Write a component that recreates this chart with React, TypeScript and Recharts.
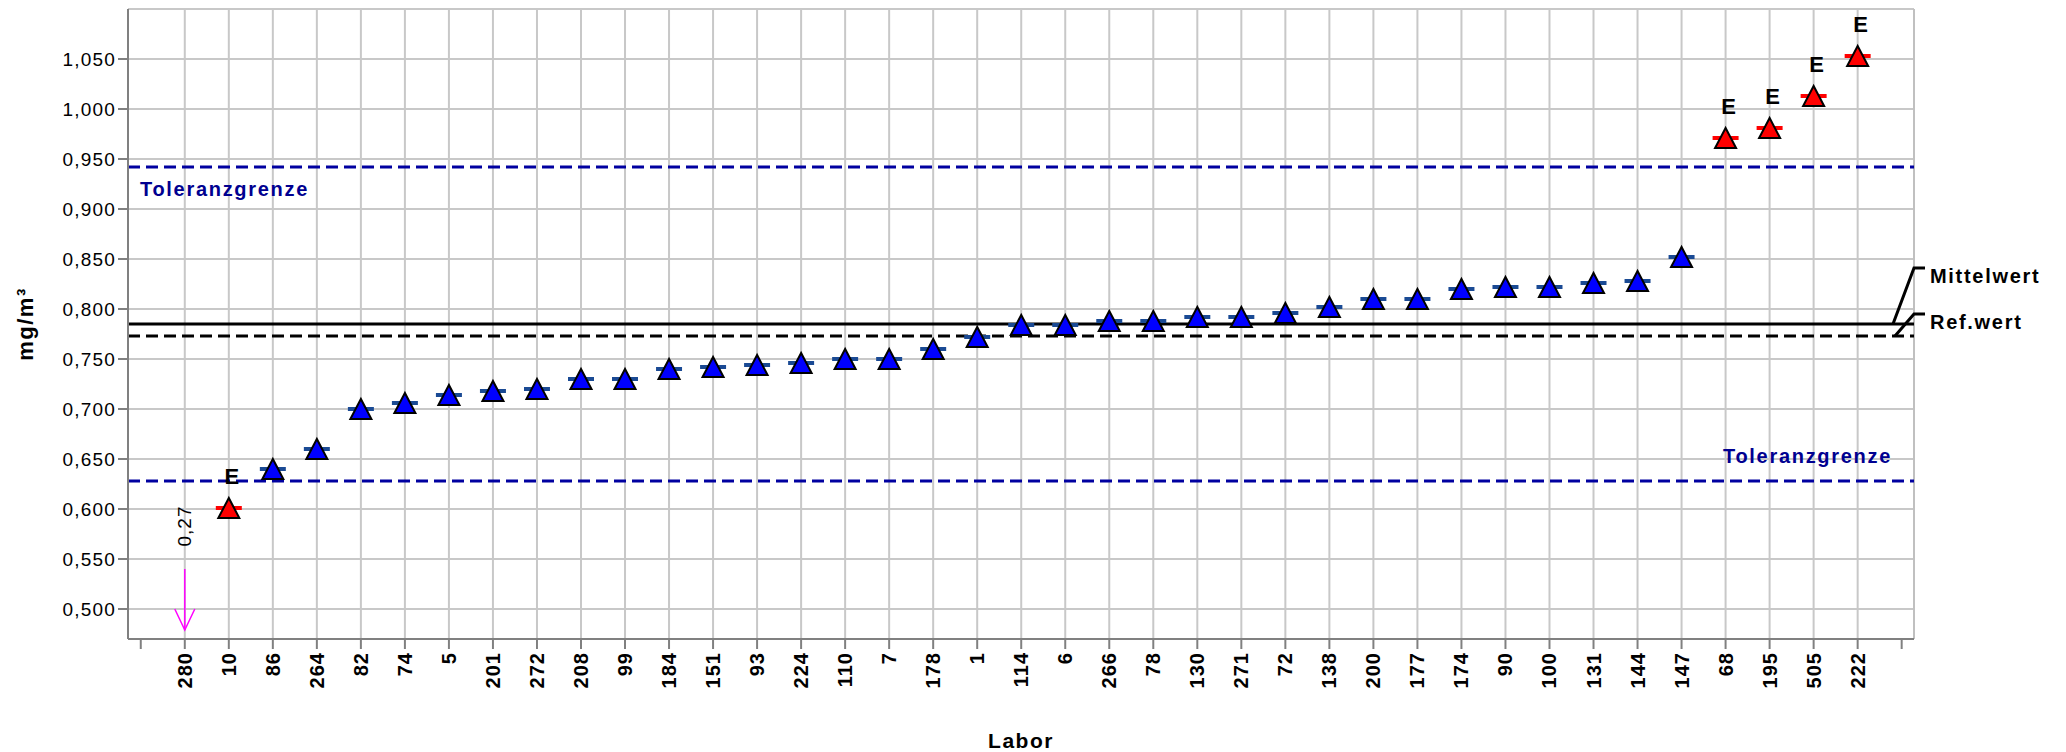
import { ScatterChart, Scatter, XAxis, YAxis, CartesianGrid, ReferenceLine } from "recharts";

// Labore in Reihenfolge der x-Achse
const labs = [
    "280", "10", "86", "264", "82", "74", "5", "201", "272", "208",
    "99", "184", "151", "93", "224", "110", "7", "178", "1", "114",
    "6", "266", "78", "130", "271", "72", "138", "200", "177", "174",
    "90", "100", "131", "144", "147", "68", "195", "505", "222",
];

// Messwerte in mg/m³
const values = [
    0.27, 0.601, 0.640, 0.660, 0.700, 0.706, 0.714, 0.718, 0.720, 0.730,
    0.730, 0.740, 0.742, 0.744, 0.746, 0.750, 0.750, 0.760, 0.772, 0.784,
    0.784, 0.788, 0.788, 0.792, 0.792, 0.796, 0.802, 0.810, 0.810, 0.820,
    0.822, 0.822, 0.826, 0.828, 0.852, 0.971, 0.981, 1.013, 1.053,
];

const mittelwert = 0.785;
const refwert = 0.773;
const tolOben = 0.942;
const tolUnten = 0.628;

const yTicks = [0.5, 0.55, 0.6, 0.65, 0.7, 0.75, 0.8, 0.85, 0.9, 0.95, 1.0, 1.05];

const Y_MIN = 0.47;
const Y_MAX = 1.1;
const X_MIN = -0.29;
const X_MAX = labs.length + 1.28;

// Layout
const W = 2066;
const H = 752;
const TOP = 9;
const X_AXIS_H = 113;
const Y_AXIS_W = 128;
const RIGHT = 152;

const FONT = "'Liberation Sans', Arial, Helvetica, sans-serif";

const slots = Array.from({ length: labs.length + 2 }, (_, i) => i);
const labSlots = slots.filter((s) => s > 0 && s <= labs.length);
const points = labs.map((lab, k) => ({ slot: k + 1, lab, v: values[k] }));
const inRange = points.filter((p) => p.v >= Y_MIN);
const okPoints = inRange.filter((p) => p.v >= tolUnten && p.v <= tolOben);
const ePoints = inRange.filter((p) => p.v < tolUnten || p.v > tolOben);
const lowPoints = points
    .filter((p) => p.v < Y_MIN)
    .map((p) => ({ slot: p.slot, lab: p.lab, v: Y_MIN, actual: p.v }));

const fmt = (v: number, d: number) => v.toFixed(d).replace(".", ",");

function Marker({ cx, cy, fill, dash, flag }: any) {
    return (
        <g>
            <line x1={cx - 13} x2={cx + 13} y1={cy} y2={cy} stroke={dash} strokeWidth={4} />
            <polygon
                points={`${cx},${cy - 10} ${cx - 10.5},${cy + 10} ${cx + 10.5},${cy + 10}`}
                fill={fill}
                stroke="#000"
                strokeWidth={2}
            />
            {flag && (
                <text x={cx + 3} y={cy - 32} textAnchor="middle" dominantBaseline="central"
                    style={{ fontFamily: FONT, fontWeight: "bold", fontSize: 22 }} fill="#000">
                    {flag}
                </text>
            )}
        </g>
    );
}

function LowArrow({ cx, cy, payload }: any) {
    return (
        <g>
            <line x1={cx} x2={cx} y1={cy - 70} y2={cy - 9} stroke="#FF00FF" strokeWidth={1.5} />
            <polyline points={`${cx - 10},${cy - 30} ${cx},${cy - 9} ${cx + 10},${cy - 30}`}
                fill="none" stroke="#FF00FF" strokeWidth={1.5} />
            <text x={cx} y={cy - 113} transform={`rotate(-90 ${cx} ${cy - 113})`} textAnchor="middle"
                dominantBaseline="central" style={{ fontFamily: FONT, fontSize: 19, letterSpacing: 1 }} fill="#000">
                {fmt(payload.actual, 2)}
            </text>
        </g>
    );
}

function XTick({ x, y, payload }: any) {
    const lab = labs[payload.value - 1];
    if (!lab) return null;
    return (
        <text x={x} y={y + 1} transform={`rotate(-90 ${x} ${y + 1})`} textAnchor="end" dominantBaseline="central"
            style={{ fontFamily: FONT, fontWeight: "bold", fontSize: 20, letterSpacing: 1 }} fill="#000">
            {lab}
        </text>
    );
}

function TolLabel({ viewBox, side }: any) {
    const left = side === "left";
    return (
        <text
            x={left ? viewBox.x + 12 : viewBox.x + viewBox.width - 22}
            y={left ? viewBox.y + 22 : viewBox.y - 25}
            textAnchor={left ? "start" : "end"}
            dominantBaseline="central"
            style={{ fontFamily: FONT, fontWeight: "bold", fontSize: 20, letterSpacing: 1.7 }}
            fill="#000090">
            Toleranzgrenze
        </text>
    );
}

function LeaderLabel({ viewBox, text, rise, start }: any) {
    const r = viewBox.x + viewBox.width;
    const y = viewBox.y;
    return (
        <g>
            <polyline points={`${r - start},${y} ${r},${y - rise} ${r + 11},${y - rise}`}
                fill="none" stroke="#000" strokeWidth={3} />
            <text x={r + 16} y={y - rise + 15}
                style={{ fontFamily: FONT, fontWeight: "bold", fontSize: 20, letterSpacing: 1.7 }} fill="#000">
                {text}
            </text>
        </g>
    );
}

function XTitle() {
    const cx = Y_AXIS_W + (W - Y_AXIS_W - RIGHT) / 2;
    return (
        <text x={cx} y={H - 12} textAnchor="middle" dominantBaseline="central"
            style={{ fontFamily: FONT, fontWeight: "bold", fontSize: 21, letterSpacing: 1.5 }} fill="#000">
            Labor
        </text>
    );
}

function YTitle() {
    const cy = TOP + (H - TOP - X_AXIS_H) / 2;
    return (
        <g transform={`translate(25 ${cy}) rotate(-90)`}>
            <text x={0} y={0} textAnchor="middle" dominantBaseline="central" fontSize={22} fontWeight="bold"
                fontFamily={FONT} letterSpacing={1.5} fill="#000">
                mg/m³
            </text>
        </g>
    );
}

export default function App() {
    return (
        <div style={{ position: "absolute", left: 0, top: 0, width: W, height: H, background: "#fff" }}>
            <ScatterChart width={W} height={H} margin={{ top: TOP, right: RIGHT, bottom: 0, left: 0 }}>
                <CartesianGrid stroke="#c8c8c8" strokeWidth={2} xAxisId="grid" />
                <XAxis
                    xAxisId="grid"
                    type="number"
                    dataKey="slot"
                    domain={[X_MIN, X_MAX]}
                    ticks={labSlots}
                    interval={0}
                    allowDataOverflow
                    hide
                />
                <XAxis
                    type="number"
                    dataKey="slot"
                    domain={[X_MIN, X_MAX]}
                    ticks={slots}
                    interval={0}
                    allowDataOverflow
                    height={X_AXIS_H}
                    tickSize={10}
                    tick={<XTick />}
                    axisLine={{ stroke: "#808080", strokeWidth: 2 }}
                    tickLine={{ stroke: "#808080", strokeWidth: 2 }}
                    label={{ content: () => <XTitle /> }}
                />
                <YAxis
                    type="number"
                    dataKey="v"
                    domain={[Y_MIN, Y_MAX]}
                    ticks={yTicks}
                    allowDataOverflow
                    width={Y_AXIS_W}
                    tickSize={10}
                    tickFormatter={(v: number) => fmt(v, 3)}
                    tick={{ fontFamily: FONT, fontSize: 19, fill: "#000", letterSpacing: 1.2 }}
                    axisLine={{ stroke: "#808080", strokeWidth: 2 }}
                    tickLine={{ stroke: "#808080", strokeWidth: 2 }}
                    label={{ content: () => <YTitle /> }}
                />
                <ReferenceLine y={Y_MAX} stroke="#c8c8c8" strokeWidth={2} />
                <ReferenceLine x={X_MAX} stroke="#c0c0c0" strokeWidth={2} />
                <ReferenceLine y={tolOben} stroke="#0000A0" strokeWidth={3} strokeDasharray="12 6"
                    label={{ content: (p: any) => <TolLabel viewBox={p.viewBox} side="left" /> }} />
                <ReferenceLine y={tolUnten} stroke="#0000A0" strokeWidth={3} strokeDasharray="12 6"
                    label={{ content: (p: any) => <TolLabel viewBox={p.viewBox} side="right" /> }} />
                <ReferenceLine y={mittelwert} stroke="#000" strokeWidth={3}
                    label={{ content: (p: any) => <LeaderLabel viewBox={p.viewBox} text="Mittelwert" rise={56} start={21} /> }} />
                <ReferenceLine y={refwert} stroke="#000" strokeWidth={3} strokeDasharray="12 6"
                    label={{ content: (p: any) => <LeaderLabel viewBox={p.viewBox} text="Ref.wert" rise={22} start={19} /> }} />
                <Scatter data={okPoints} dataKey="v" isAnimationActive={false}
                    shape={(p: any) => <Marker cx={p.cx} cy={p.cy} fill="#0000FF" dash="#1a4a94" />} />
                <Scatter data={ePoints} dataKey="v" isAnimationActive={false}
                    shape={(p: any) => <Marker cx={p.cx} cy={p.cy} fill="#FF0000" dash="#FF0000" flag="E" />} />
                <Scatter data={lowPoints} dataKey="v" isAnimationActive={false}
                    shape={(p: any) => <LowArrow cx={p.cx} cy={p.cy} payload={p.payload} />} />
            </ScatterChart>
        </div>
    );
}
